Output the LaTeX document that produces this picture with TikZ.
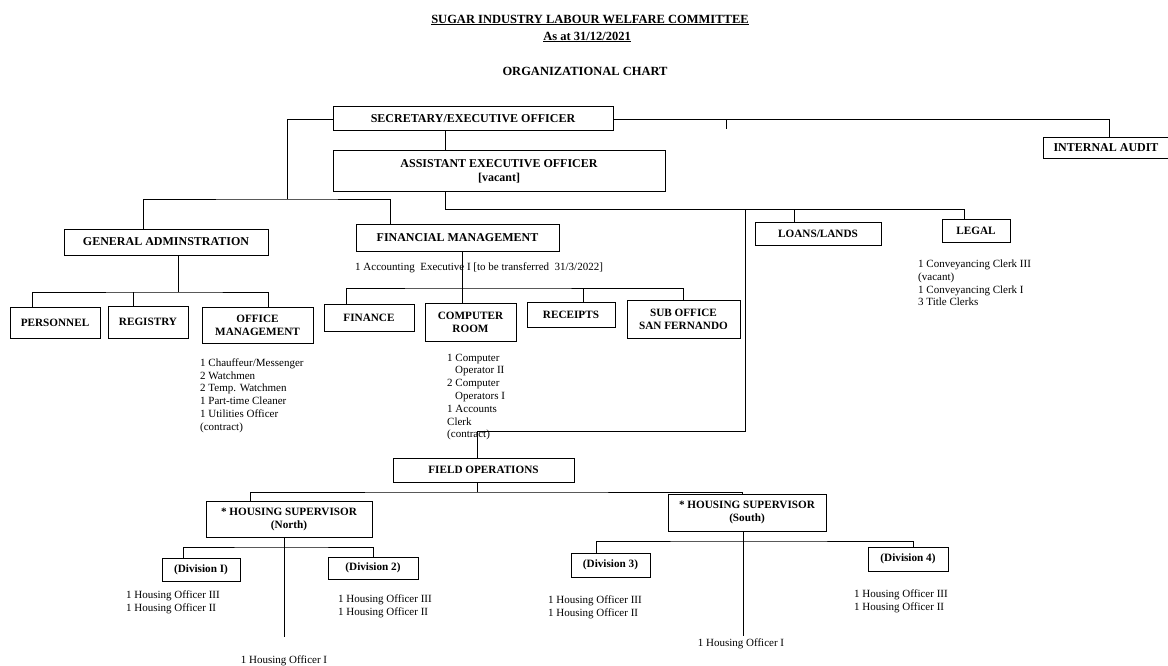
\documentclass[tikz,border=0pt]{standalone}
\usepackage{fontspec}
\setmainfont{Liberation Serif}
\usetikzlibrary{calc,positioning}
\tikzset{
	orgbox/.style={
		rectangle,
		draw=black, line width=1pt,
		inner sep=2pt,
		align=center,
		font=\bfseries\fontsize{11.2}{13}\selectfont},
	topbox/.style={orgbox, font=\bfseries\fontsize{12}{14}\selectfont},
	line/.style={draw, line width=0.8pt},
	staff/.style={
		inner sep=0pt,
		align=left,
		anchor=west,
		font=\fontsize{11}{12.8}\selectfont},
	heading/.style={font=\bfseries\fontsize{12.5}{14}\selectfont},
}

\begin{document}
\begin{tikzpicture}[x=1pt, y=-1pt]
	\useasboundingbox (0,0) rectangle (1168,666);
	\node[heading] (title) at (590,20) {\underline{SUGAR INDUSTRY LABOUR WELFARE COMMITTEE}};
	\node[heading] (asat) at (587,37) {\underline{As at 31/12/2021}};
	\node[heading] (chart) at (585,71) {ORGANIZATIONAL CHART};

	\node[topbox, minimum width=280pt, minimum height=24pt] (sec) at (473,119) {SECRETARY/EXECUTIVE OFFICER};
	\node[topbox, minimum width=332pt, minimum height=41pt] (aeo) at (499,171.5) {ASSISTANT EXECUTIVE OFFICER\\{[vacant]}};
	\node[topbox, minimum width=125pt, minimum height=21pt] (ia) at (1106,148) {INTERNAL AUDIT};
	\node[topbox, minimum width=204pt, minimum height=26pt] (ga) at (166,242) {GENERAL ADMINSTRATION};
	\node[topbox, minimum width=203pt, minimum height=27pt] (fm) at (457.5,237.5) {FINANCIAL MANAGEMENT};
	\node[orgbox, minimum width=126pt, minimum height=23pt] (loans) at (818,233.5) {LOANS/LANDS};
	\node[orgbox, minimum width=68pt, minimum height=23pt] (legal) at (976,230.5) {LEGAL};

	\node[orgbox, minimum width=90pt, minimum height=31pt] (personnel) at (55,322.5) {PERSONNEL};
	\node[orgbox, minimum width=80pt, minimum height=32pt] (registry) at (148,322) {REGISTRY};
	\node[orgbox, minimum width=111pt, minimum height=36pt] (om) at (257.5,325) {OFFICE\\MANAGEMENT};
	\node[orgbox, minimum width=90pt, minimum height=27pt] (finance) at (369,317.5) {FINANCE};
	\node[orgbox, minimum width=91pt, minimum height=38pt] (comproom) at (470.5,322) {COMPUTER\\ROOM};
	\node[orgbox, minimum width=88pt, minimum height=25pt] (receipts) at (571,314.5) {RECEIPTS};
	\node[orgbox, minimum width=113pt, minimum height=38pt] (suboffice) at (683.5,319) {SUB OFFICE\\SAN FERNANDO};

	\node[orgbox, minimum width=181pt, minimum height=24pt] (fieldops) at (483.5,470) {FIELD OPERATIONS};
	\node[orgbox, minimum width=166pt, minimum height=36pt] (hsnorth) at (289,519) {* HOUSING SUPERVISOR\\(North)};
	\node[orgbox, minimum width=158pt, minimum height=37pt] (hssouth) at (747,512.5) {* HOUSING SUPERVISOR\\(South)};
	\node[orgbox, minimum width=78pt, minimum height=23pt] (div1) at (201,570) {(Division I)};
	\node[orgbox, minimum width=90pt, minimum height=22pt] (div2) at (373,568) {(Division 2)};
	\node[orgbox, minimum width=79pt, minimum height=24pt] (div3) at (610.5,565) {(Division 3)};
	\node[orgbox, minimum width=80pt, minimum height=24pt] (div4) at (908,559) {(Division 4)};

	\node[staff] (acct) at (355,268) {1 Accounting\ \ Executive I [to be transferred\ \ 31/3/2022]};
	\node[staff] (omstaff) at (200,395.5) {1 Chauffeur/Messenger\\2 Watchmen\\2 Temp. Watchmen\\1 Part-time Cleaner\\1 Utilities Officer\\(contract)};
	\node[staff] (compstaff) at (447,397) {1 Computer\\\hspace*{8pt}Operator II\\2 Computer\\\hspace*{8pt}Operators I\\1 Accounts\\Clerk\\(contract)};
	\node[staff] (legalstaff) at (918,283) {1 Conveyancing Clerk III\\(vacant)\\1 Conveyancing Clerk I\\3 Title Clerks};
	\node[staff] (div1staff) at (126,602) {1 Housing Officer III\\1 Housing Officer II};
	\node[staff] (div2staff) at (338,606.5) {1 Housing Officer III\\1 Housing Officer II};
	\node[staff] (div3staff) at (548,607) {1 Housing Officer III\\1 Housing Officer II};
	\node[staff] (div4staff) at (854,601.5) {1 Housing Officer III\\1 Housing Officer II};
	\node[staff, anchor=center] (hon) at (284,661) {1 Housing Officer I};
	\node[staff, anchor=center] (hos) at (741,644) {1 Housing Officer I};

	\coordinate (stub) at (726,129);
	\coordinate (adminjoin) at (287,199);
	\coordinate (spine) at (445,209);
	\coordinate (loanstop) at ([xshift=-24pt]loans.north);
	\coordinate (fieldbend) at (745,431);
	\coordinate (adminbus) at (178,292);
	\coordinate (registrytop) at ([xshift=-15pt]registry.north);
	\coordinate (finbus) at (462,288);
	\coordinate (receiptstop) at ([xshift=12pt]receipts.north);
	\coordinate (fieldbus) at (477,492);
	\coordinate (northbus) at (284,547);
	\coordinate (northend) at (284,637);
	\coordinate (southbus) at (743,541);
	\coordinate (southend) at (743,636);

	\draw[line] (sec.east) -| ([xshift=3pt]ia.north);
	\draw[line] (stub) -- (stub |- sec.east);
	\draw[line] (sec.west) -| (adminjoin);
	\draw[line] ([xshift=-23pt]ga.north) |- (adminjoin) -| ([xshift=-67.5pt]fm.north);
	\draw[line] (spine |- sec.south) -- (spine |- aeo.north);
	\draw[line] (spine |- aeo.south) -- (spine) -| ([xshift=-12pt]legal.north);
	\draw[line] (loanstop) -- (loanstop |- spine);
	\draw[line] (fieldbend |- spine) -- (fieldbend) -| ([xshift=-6.5pt]fieldops.north);

	\draw[line] ([xshift=12pt]ga.south) -- (adminbus);
	\draw[line] ([xshift=-23pt]personnel.north) |- (adminbus) -| ([xshift=10.5pt]om.north);
	\draw[line] (registrytop) -- (registrytop |- adminbus);
	\draw[line] (fm.south -| finbus) -- (comproom.north -| finbus);
	\draw[line] ([xshift=-23pt]finance.north) |- (finbus) -| (suboffice.north);
	\draw[line] (receiptstop) -- (receiptstop |- finbus);

	\draw[line] (fieldops.south -| fieldbus) -- (fieldbus);
	\draw[line] ([xshift=-39pt]hsnorth.north) |- (fieldbus) -| ([xshift=-5pt]hssouth.north);
	\draw[line] (hsnorth.south -| northbus) -- (northend);
	\draw[line] ([xshift=-18pt]div1.north) |- (northbus) -| (div2.north);
	\draw[line] (hssouth.south -| southbus) -- (southend);
	\draw[line] ([xshift=-14.5pt]div3.north) |- (southbus) -| ([xshift=5pt]div4.north);
\end{tikzpicture}
\end{document}
